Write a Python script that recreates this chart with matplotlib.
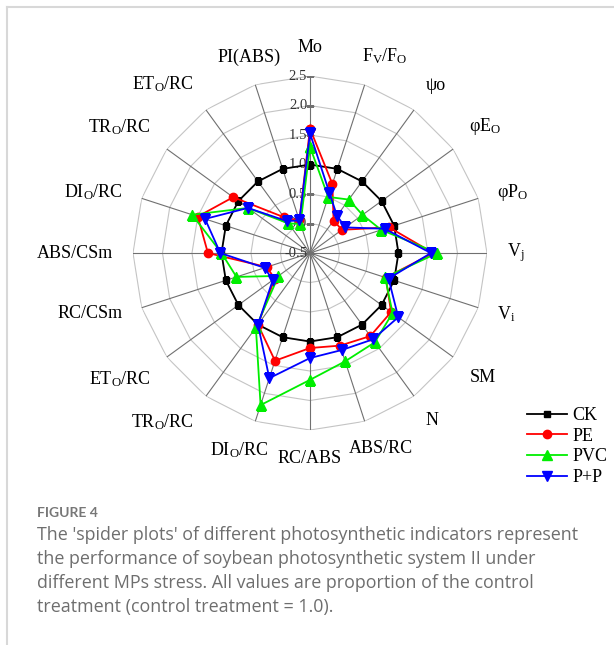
import numpy as np
from matplotlib import pyplot as plt
from matplotlib import transforms
from matplotlib.lines import Line2D

plt.rcParams['font.family'] = ['Liberation Serif', 'DejaVu Serif']
plt.rcParams['mathtext.fontset'] = 'custom'
plt.rcParams['mathtext.rm'] = 'Liberation Serif'
plt.rcParams['mathtext.it'] = 'Liberation Serif:italic'

# indicators, clockwise from top
labels = ['Mo', r'F$_\mathrm{V}$/F$_\mathrm{O}$', 'ψo', r'φE$_\mathrm{O}$', r'φP$_\mathrm{O}$',
          r'V$_\mathrm{j}$', r'V$_\mathrm{i}$', 'SM', 'N', 'ABS/RC', 'RC/ABS',
          r'DI$_\mathrm{O}$/RC', r'TR$_\mathrm{O}$/RC', r'ET$_\mathrm{O}$/RC', 'RC/CSm', 'ABS/CSm',
          r'DI$_\mathrm{O}$/RC', r'TR$_\mathrm{O}$/RC', r'ET$_\mathrm{O}$/RC', 'PI(ABS)']

ck = [1.0] * 20
pe = [1.61, 0.73, 0.18, 0.17, 0.91, 1.59, 0.85, 1.20, 1.24, 1.15,
      1.11, 1.42, 1.00, 0.24, 0.27, 1.23, 1.50, 1.11, 0.25, 0.08]
pvc = [1.30, 0.50, 0.62, 0.60, 0.77, 1.66, 0.84, 1.23, 1.37, 1.43,
       1.65, 2.21, 1.06, 0.16, 0.81, 1.00, 1.60, 0.80, 0.12, 0.02]
pp = [1.53, 0.57, 0.28, 0.24, 0.83, 1.55, 0.90, 1.35, 1.31, 1.23,
      1.28, 1.73, 1.00, 0.28, 0.31, 1.02, 1.37, 0.80, 0.17, 0.08]

series = [('CK', ck, 'black', 's', 5),
          ('PE', pe, '#ff0000', 'o', 6),
          ('PVC', pvc, '#00ee00', '^', 6.5),
          ('P+P', pp, '#0000ff', 'v', 6.5)]

levels = [-0.5, 0.0, 0.5, 1.0, 1.5, 2.0, 2.5]

caption = ["The 'spider plots' of different photosynthetic indicators represent",
           "the performance of soybean photosynthetic system II under",
           "different MPs stress. All values are proportion of the control",
           "treatment (control treatment = 1.0)."]

n = len(labels)
theta = np.arange(n) * 2 * np.pi / n
theta_c = np.append(theta, theta[0])

# small sideways nudges (points) for the labels near top/bottom
label_dx = {1: 10, 9: 7, 11: -7}

fig = plt.figure(figsize=(6.14, 6.45), dpi=100)
ax = fig.add_axes([0.2166, 0.3333, 0.5765, 0.5488], projection='polar')
ax.set_theta_zero_location('N')
ax.set_theta_direction(-1)
ax.set_ylim(-0.5, 2.5)
ax.grid(False)
ax.set_xticks([])
ax.set_yticks([])
ax.spines['polar'].set_visible(False)
ax.patch.set_alpha(0)

# polygon grid
for lev in levels[1:]:
    ax.plot(theta_c, [lev] * (n + 1), color='#c4c4c4', lw=0.8, zorder=1)
for t in theta:
    ax.plot([t, t], [-0.5, 2.5], color='#707070', lw=0.8, zorder=1)

# radial scale on the Mo axis
ax.plot([0] * len(levels), levels, ls='none', marker='_', ms=6, mew=0.8, color='#707070', zorder=1)
tr = transforms.offset_copy(ax.transData, fig=fig, x=-2, y=0, units='points')
for lev in levels:
    ax.text(0, lev, f'{lev:.1f}', transform=tr, ha='right', va='center', fontsize=10.5, color='#333333')

for name, vals, col, mk, ms in series:
    ax.plot(theta_c, vals + vals[:1], color=col, lw=1.3, marker=mk, ms=ms, label=name, zorder=3)

# axis labels
for i, (t, lab) in enumerate(zip(theta, labels)):
    s, c = np.sin(t), np.cos(t)
    ha = 'left' if s > 0.35 else ('right' if s < -0.35 else 'center')
    va = 'bottom' if c > 0.35 else ('top' if c < -0.35 else 'center')
    trl = transforms.offset_copy(ax.transData, fig=fig, x=label_dx.get(i, 0), y=0, units='points')
    ax.text(t, 2.84, lab, ha=ha, va=va, fontsize=13, transform=trl)

ax.legend(loc='upper left', bbox_to_anchor=(518 / 614, 1 - 398 / 645), bbox_transform=fig.transFigure,
          frameon=False, fontsize=13, handlelength=2.2, handletextpad=0.3, labelspacing=0.2,
          borderpad=0)

# caption
fig.text(37 / 614, 1 - 513 / 645, 'FIGURE 4', fontsize=10, color='#777777', fontweight='bold',
         family='Lato', va='center')
for i, line in enumerate(caption):
    fig.text(37 / 614, 1 - (535 + 24 * i) / 645, line, fontsize=12.9, color='#6e6e6e',
             family='Open Sans', va='center')

# page border
fig.add_artist(Line2D([7 / 614, 1], [1 - 7 / 645] * 2, transform=fig.transFigure, color='#d8d8d8', lw=1.5))
fig.add_artist(Line2D([7 / 614] * 2, [0, 1 - 7 / 645], transform=fig.transFigure, color='#d8d8d8', lw=1.5))

fig.savefig('out.png', dpi=100)
